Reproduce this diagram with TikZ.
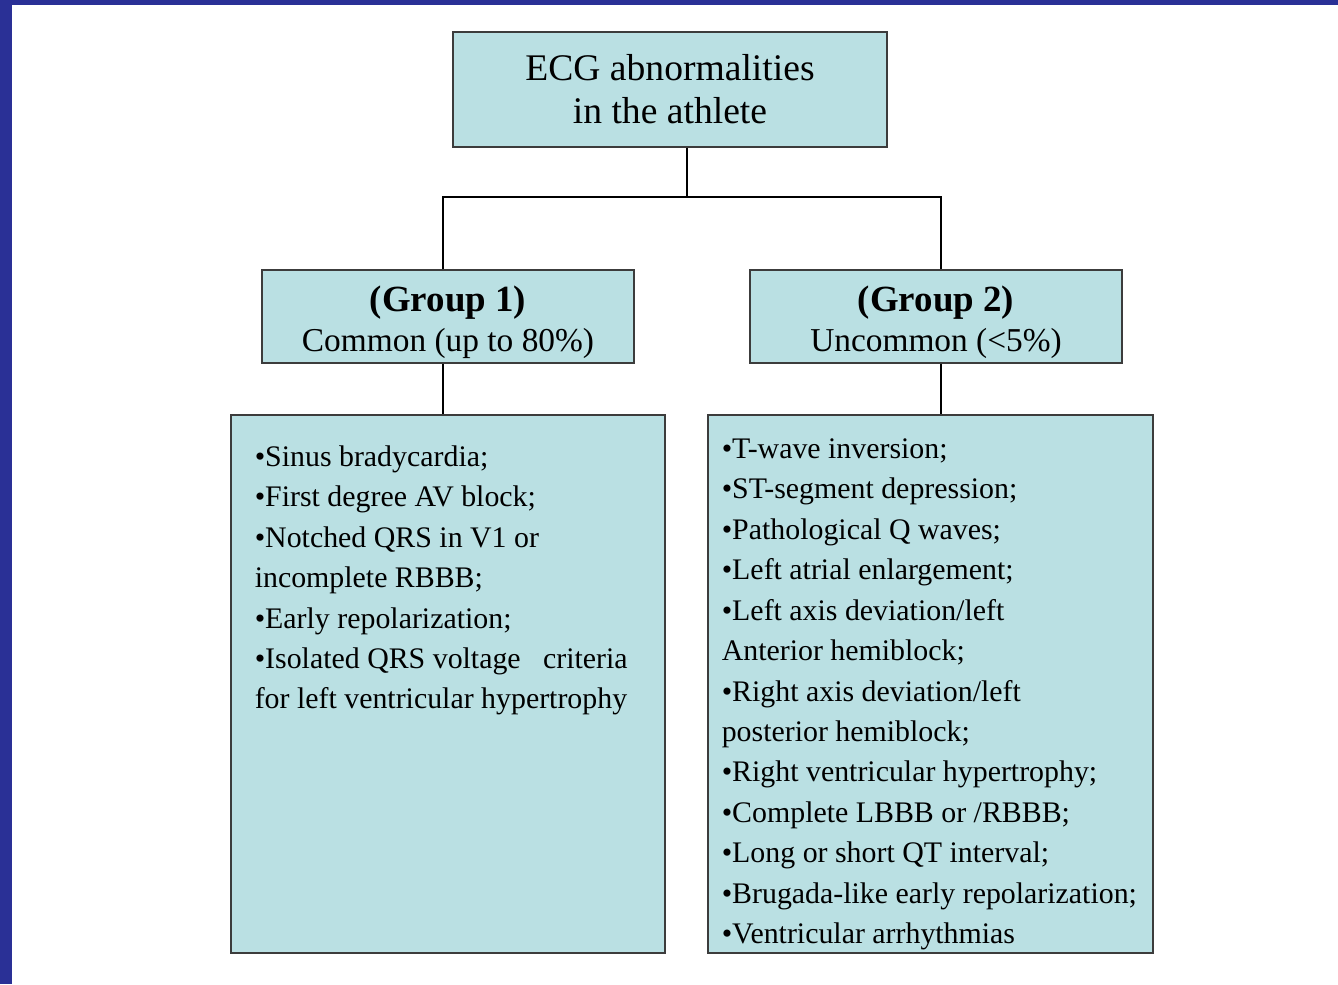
\documentclass[tikz,border=0pt]{standalone}
\usepackage{fontspec}
\setmainfont{Liberation Serif}
\usetikzlibrary{positioning}

\tikzset{
  boxstyle/.style={draw=boxlinecolor, fill=boxcolor, line width=0.7pt, inner sep=0pt, align=center},
  linkstyle/.style={draw=black, line width=0.6pt},
  listtext/.style={inner sep=0pt, align=left, anchor=north west, font=\fontsize{17pt}{23pt}\selectfont}
}

\begin{document}
\begin{tikzpicture}[x=0.02cm, y=-0.02cm]
            % Define the colors
            \definecolor{framecolor}{RGB}{42, 48, 150}
            \definecolor{boxcolor}{RGB}{186, 224, 227}
            \definecolor{boxlinecolor}{RGB}{60, 60, 60}

            % Fix the page size
            \useasboundingbox (0,0) rectangle (1338,984);

            % Draw the slide frame
            \fill[framecolor] (0,0) rectangle (12,984);
            \fill[framecolor] (0,0) rectangle (1338,5);

            % Draw the top box
            \node[boxstyle, minimum width=8.68cm, minimum height=2.3cm, font=\fontsize{21.4pt}{24.5pt}\selectfont] (ecg) at (670,89.5) {ECG abnormalities\\ in the athlete};

            % Draw the group boxes
            \node[boxstyle, minimum width=7.44cm, minimum height=1.86cm, font=\fontsize{19pt}{22.8pt}\selectfont] (group1) at (448,316.5) {{\rule{0pt}{21.5pt}\fontsize{21pt}{22.8pt}\selectfont\bfseries (Group 1)}\\ Common (up to 80\%)};
            \node[boxstyle, minimum width=7.44cm, minimum height=1.86cm, font=\fontsize{19pt}{22.8pt}\selectfont] (group2) at (936,316.5) {{\rule{0pt}{21.5pt}\fontsize{21pt}{22.8pt}\selectfont\bfseries (Group 2)}\\ Uncommon (<5\%)};

            % Draw the list boxes
            \node[boxstyle, minimum width=8.68cm, minimum height=10.76cm] (list1) at (448,684) {};
            \node[boxstyle, minimum width=8.9cm, minimum height=10.76cm] (list2) at (930.5,684) {};

            % Fill in the lists
            % group 1
            \node[listtext] (list1text) at ([xshift=0.48cm, yshift=-0.62cm]list1.north west) {•Sinus bradycardia;\\
                •First degree AV block;\\
                •Notched QRS in V1 or\\
                incomplete RBBB;\\
                •Early repolarization;\\
                •Isolated QRS voltage \enspace criteria\\
                for left ventricular hypertrophy};
            % group 2
            \node[listtext] (list2text) at ([xshift=0.28cm, yshift=-0.48cm]list2.north west) {•T-wave inversion;\\
                •ST-segment depression;\\
                •Pathological Q waves;\\
                •Left atrial enlargement;\\
                •Left axis deviation/left\\
                Anterior hemiblock;\\
                •Right axis deviation/left\\
                posterior hemiblock;\\
                •Right ventricular hypertrophy;\\
                •Complete LBBB or /RBBB;\\
                •Long or short QT interval;\\
                •Brugada-like early repolarization;\\
                •Ventricular arrhythmias};

            % Draw the connectors
            \coordinate (split) at (687,197);
            \coordinate (busL) at (443,197);
            \coordinate (busR) at (941,197);
            \draw[linkstyle] (ecg.south -| split) -- (split);
            \draw[linkstyle] (busL |- group1.north) -- (busL) -- (busR) -- (busR |- group2.north);
            \draw[linkstyle] (busL |- group1.south) -- (busL |- list1.north);
            \draw[linkstyle] (busR |- group2.south) -- (busR |- list2.north);

        \end{tikzpicture}
\end{document}
